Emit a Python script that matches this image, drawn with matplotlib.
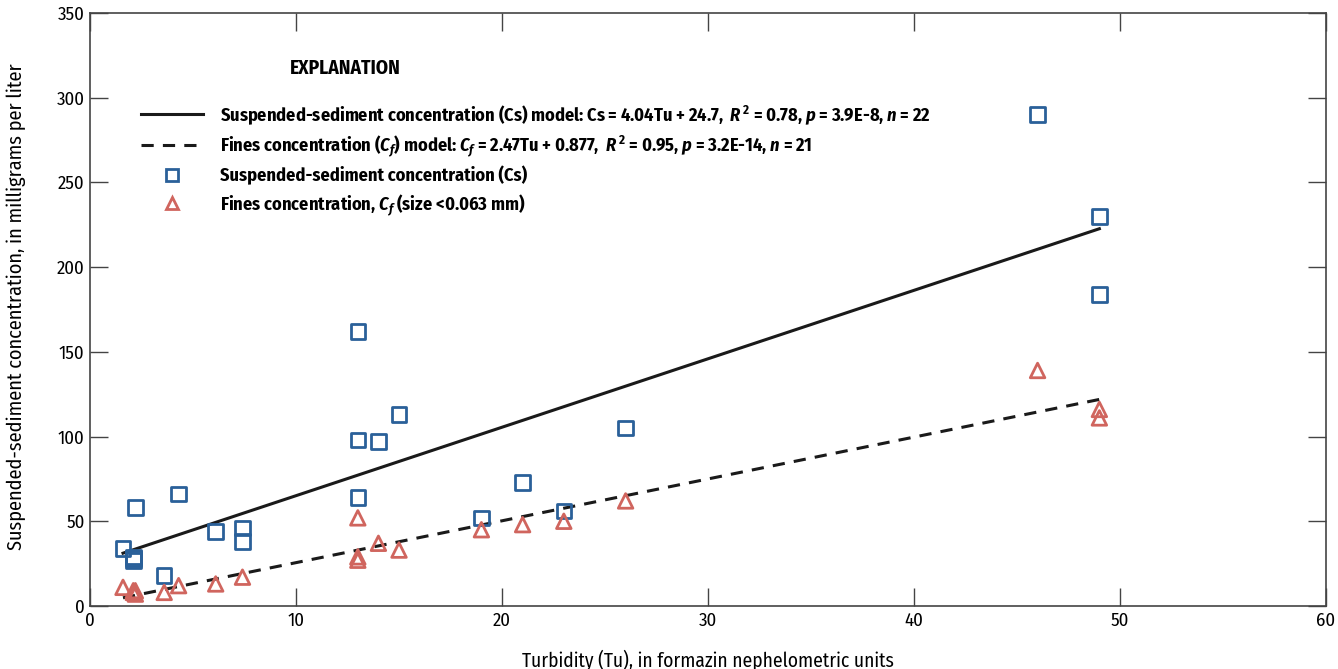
import numpy as np
import matplotlib.pyplot as plt
from matplotlib.lines import Line2D

# data
cs_tu = [1.6, 2.1, 2.1, 2.2, 3.6, 4.3, 6.1, 7.4, 7.4, 13, 13, 13, 14, 15, 19, 21, 23, 26, 46, 49, 49, 2.1]
cs_val = [34, 29, 27, 58, 18, 66, 44, 46, 38, 162, 98, 64, 97, 113, 52, 73, 56, 105, 290, 230, 184, 28]
cf_tu = [1.6, 2.1, 2.2, 2.2, 3.6, 4.3, 6.1, 7.4, 13, 13, 13, 14, 15, 19, 21, 23, 26, 46, 49, 49, 2.1]
cf_val = [11, 8, 7, 9, 8, 12, 13, 17, 52, 29, 27, 37, 33, 45, 48, 50, 62, 139, 116, 111, 9]

# regression models
cs_slope, cs_int = 4.04, 24.7
cf_slope, cf_int = 2.47, 0.877
fit_range = [1.6, 49]

fnt = 'Fira Sans Condensed'
plt.rcParams['font.family'] = [fnt, 'DejaVu Sans']
plt.rcParams['mathtext.fontset'] = 'custom'
plt.rcParams['mathtext.rm'] = fnt + ':bold'
plt.rcParams['mathtext.it'] = fnt + ':bold:italic'
plt.rcParams['mathtext.bf'] = fnt + ':bold'

blue = '#2a6099'
red = '#d0655e'
dark = '#1a1a1a'

fig = plt.figure(figsize=(13.38, 6.69), dpi=100)
ax = fig.add_axes([0.0673, 0.0942, 0.9237, 0.8864])

x = np.array(fit_range)
ax.plot(x, cs_slope * x + cs_int, color=dark, lw=2.2)
ax.plot(x, cf_slope * x + cf_int, color=dark, lw=2.2, ls=(0, (4, 3)))
ax.scatter(cs_tu, cs_val, marker='s', s=110, facecolors='none', edgecolors=blue, linewidths=2.0, zorder=3)
ax.scatter(cf_tu, cf_val, marker='^', s=110, facecolors='none', edgecolors=red, linewidths=2.0, zorder=3)

ax.set_xlim(0, 60)
ax.set_ylim(0, 350)
ax.set_xticks(range(0, 61, 10))
ax.set_yticks(range(0, 351, 50))
ax.tick_params(direction='in', length=13, width=1, top=True, right=True, labelsize=13.5, pad=4, color='#444444')
for s in ax.spines.values():
    s.set_color('#444444')
    s.set_linewidth(1.2)

ax.set_xlabel('Turbidity (Tu), in formazin nephelometric units', fontsize=14)
ax.set_ylabel('Suspended-sediment concentration, in milligrams per liter', fontsize=14.6)
ax.xaxis.set_label_coords(0.5, -0.074)
ax.yaxis.set_label_coords(-0.052, 0.505)

# explanation block
ax.text(0.1619, 0.906, 'EXPLANATION', transform=ax.transAxes, fontsize=14, fontweight='bold', va='center')
handles = [
    Line2D([], [], color=dark, lw=2.2),
    Line2D([], [], color=dark, lw=2.2, ls=(0, (4, 3))),
    Line2D([], [], marker='s', ls='none', mfc='none', mec=blue, mew=2.0, ms=9),
    Line2D([], [], marker='^', ls='none', mfc='none', mec=red, mew=2.0, ms=9),
]
labels = [
    r'Suspended-sediment concentration (Cs) model: Cs = 4.04Tu + 24.7,  $R^{\,2}$ = 0.78, $p$ = 3.9E-8, $n$ = 22',
    r'Fines concentration ($C_f$) model: $C_f$ = 2.47Tu + 0.877,  $R^{\,2}$ = 0.95, $p$ = 3.2E-14, $n$ = 21',
    'Suspended-sediment concentration (Cs)',
    r'Fines concentration, $C_f$ (size <0.063 mm)',
]
leg = ax.legend(handles, labels, loc='upper left', bbox_to_anchor=(0.028, 0.876), frameon=False,
                handlelength=3.4, handletextpad=0.9, labelspacing=0.37,
                prop={'weight': 'bold', 'size': 13.2})

fig.savefig('out.png', dpi=100)
